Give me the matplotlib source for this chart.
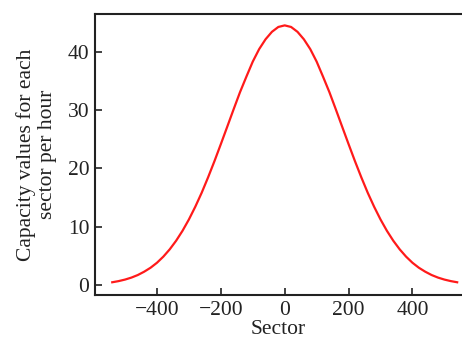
import matplotlib
matplotlib.use("Agg")
import matplotlib.pyplot as plt

sector = [-540, -520, -500, -480, -460, -440, -420, -400, -380, -360, -340, -320,
          -300, -280, -260, -240, -220, -200, -180, -160, -140, -120, -100, -80,
          -60, -40, -20, 0, 20, 40, 60, 80, 100, 120, 140, 160, 180, 200, 220,
          240, 260, 280, 300, 320, 340, 360, 380, 400, 420, 440, 460, 480, 500,
          520, 540]
capacity = [0.52, 0.72, 0.98, 1.32, 1.76, 2.33, 3.01, 3.86, 4.91, 6.16, 7.63, 9.33,
            11.27, 13.45, 15.84, 18.47, 21.25, 24.17, 27.14, 30.13, 33.06, 35.72,
            38.30, 40.44, 42.12, 43.40, 44.23, 44.50, 44.23, 43.40, 42.12, 40.44,
            38.30, 35.72, 33.06, 30.13, 27.14, 24.17, 21.25, 18.47, 15.84, 13.45,
            11.27, 9.33, 7.63, 6.16, 4.91, 3.86, 3.01, 2.33, 1.76, 1.32, 0.98,
            0.72, 0.52]
xticks = [-400, -200, 0, 200, 400]
xticklabels = ['\u2212400', '\u2212200', '0', '200', '400']
yticks = [0, 10, 20, 30, 40]

plt.rcParams['font.family'] = ['Liberation Serif', 'DejaVu Serif']

fig = plt.figure(figsize=(4.62, 3.39), dpi=100)
ax = fig.add_axes([95/462, 1-295/339, 366/462, 281/339])
ax.plot(sector, capacity, color='#ff1a1a', lw=1.6)
ax.set_xlim(-594, 552)
ax.set_ylim(-1.66, 46.45)
ax.set_xticks(xticks)
ax.set_yticks(yticks)
ax.set_xticklabels(xticklabels)
ax.tick_params(direction='in', length=5, width=1.2, labelsize=15.5, colors='#222222', pad=4)
for s in ['left', 'bottom', 'top']:
    ax.spines[s].set_linewidth(1.5)
    ax.spines[s].set_color('#222222')
ax.spines['right'].set_visible(False)
ax.set_xlabel('Sector', fontsize=15.5, color='#222222', labelpad=0)
ax.set_ylabel('Capacity values for each\nsector per hour', fontsize=15.5, color='#222222',
              linespacing=1.1, labelpad=8)
fig.savefig('out.png', dpi=100)
